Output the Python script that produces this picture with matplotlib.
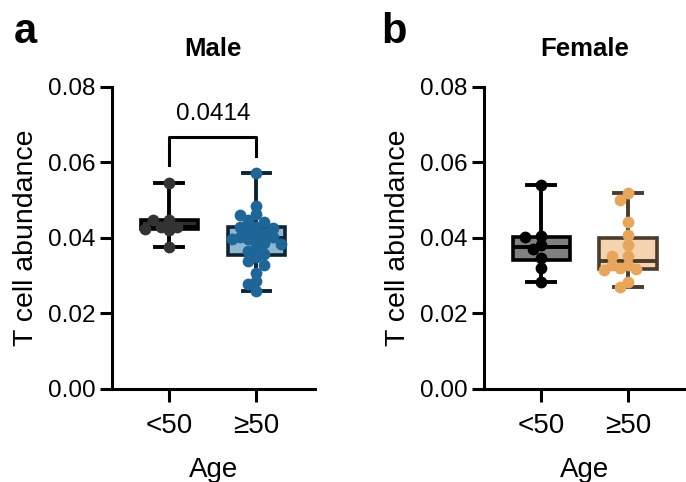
import numpy as np
import matplotlib
matplotlib.use("Agg")
import matplotlib.pyplot as plt

plt.rcParams['font.family'] = ['Liberation Sans', 'DejaVu Sans']

groups = ["<50", "\u226550"]

# T cell abundance values
male_lt50 = [0.0545, 0.0448, 0.0448, 0.0428, 0.0423, 0.0421, 0.0428, 0.0377]
male_ge50 = [0.0571, 0.0485, 0.0460, 0.0462, 0.0441, 0.0448, 0.0428, 0.0428,
             0.0427, 0.0419, 0.0409, 0.0397, 0.0403, 0.0403, 0.0403, 0.0397,
             0.0386, 0.0384, 0.0365, 0.0375, 0.0349, 0.0340, 0.0356, 0.0328,
             0.0308, 0.0285, 0.0278, 0.0260]
female_lt50 = [0.0540, 0.0406, 0.0401, 0.0380, 0.0371, 0.0348, 0.0320, 0.0283]
female_ge50 = [0.0518, 0.0499, 0.0441, 0.0407, 0.0381, 0.0352, 0.0352, 0.0328,
               0.0317, 0.0315, 0.0319, 0.0328, 0.0283, 0.0269]

p_male = "0.0414"


def swarm(vals, ppx, ppy, step, mind):
    # simple beeswarm on a grid of fixed steps (pixel space)
    order = np.argsort(vals)[::-1]
    placed = []
    offs = np.zeros(len(vals))
    for i in order:
        y = vals[i] * ppy
        k = 0
        while True:
            cands = [0] if k == 0 else [-k, k]
            ok = None
            for c in cands:
                x = c * step
                if all((x - px) ** 2 + (y - py) ** 2 >= mind ** 2 for px, py in placed):
                    ok = x
                    break
            if ok is not None:
                placed.append((ok, y))
                offs[i] = ok / ppx
                break
            k += 1
    return offs


def panel(ax, data, faces, edges, dots, title):
    for i, d in enumerate(data):
        bp = ax.boxplot([d], positions=[i], widths=0.66, whis=(0, 100),
                        patch_artist=True, showfliers=False, zorder=2)
        for b in bp['boxes']:
            b.set_facecolor(faces[i])
            b.set_edgecolor(edges[i])
            b.set_linewidth(2.6)
        for part in ('whiskers', 'caps', 'medians'):
            for l in bp[part]:
                l.set_color(edges[i])
                l.set_linewidth(2.8)
        for c in bp['caps']:
            c.set_xdata([i - 0.16, i + 0.16])
        offs = swarm(np.array(d), 87.0, 3775.0, 8.0, 8.3)
        ax.scatter(i + offs, d, s=72, color=dots[i], zorder=3, linewidths=0)
    ax.set_xlim(-0.66, 1.67)
    ax.set_ylim(0, 0.08)
    ax.set_yticks([0, 0.02, 0.04, 0.06, 0.08])
    ax.set_yticklabels(["0.00", "0.02", "0.04", "0.06", "0.08"])
    ax.set_xticks([0, 1])
    ax.set_xticklabels(groups)
    for s in ('top', 'right'):
        ax.spines[s].set_visible(False)
    for s in ('left', 'bottom'):
        ax.spines[s].set_linewidth(2.2)
    ax.tick_params(width=2.2, length=9)
    ax.tick_params(axis='y', labelsize=17.5, pad=3)
    ax.tick_params(axis='x', labelsize=20, pad=8)
    ax.set_ylabel("T cell abundance", fontsize=20.5, labelpad=6)
    ax.set_xlabel("Age", fontsize=20, labelpad=13)
    ax.set_title(title, fontsize=18.5, fontweight='bold', pad=22)


fig = plt.figure(figsize=(6.86, 4.82), dpi=100)
ax1 = fig.add_axes([0.163, 0.193, 0.296, 0.627])
ax2 = fig.add_axes([0.7055, 0.193, 0.2945, 0.627])

panel(ax1, [male_lt50, male_ge50], ['#2e2e2e', '#8db6d0'], ['#000000', '#0c2536'],
      ['#333333', '#1f6698'], "Male")
panel(ax2, [female_lt50, female_ge50], ['#808080', '#f5d3ae'], ['#000000', '#4a3c2c'],
      ['#000000', '#e8a55c'], "Female")

# significance bracket
ax1.plot([0, 0, 1, 1], [0.0593, 0.0668, 0.0668, 0.0617], color='black', lw=2.2,
         clip_on=False)
ax1.text(0.5, 0.0700, p_male, ha='center', va='bottom', fontsize=17.5)

fig.text(14 / 686, 1 - 43 / 482, "a", fontsize=30, fontweight='bold')
fig.text(381 / 686, 1 - 43 / 482, "b", fontsize=30, fontweight='bold')

fig.savefig("out.png", dpi=100)
